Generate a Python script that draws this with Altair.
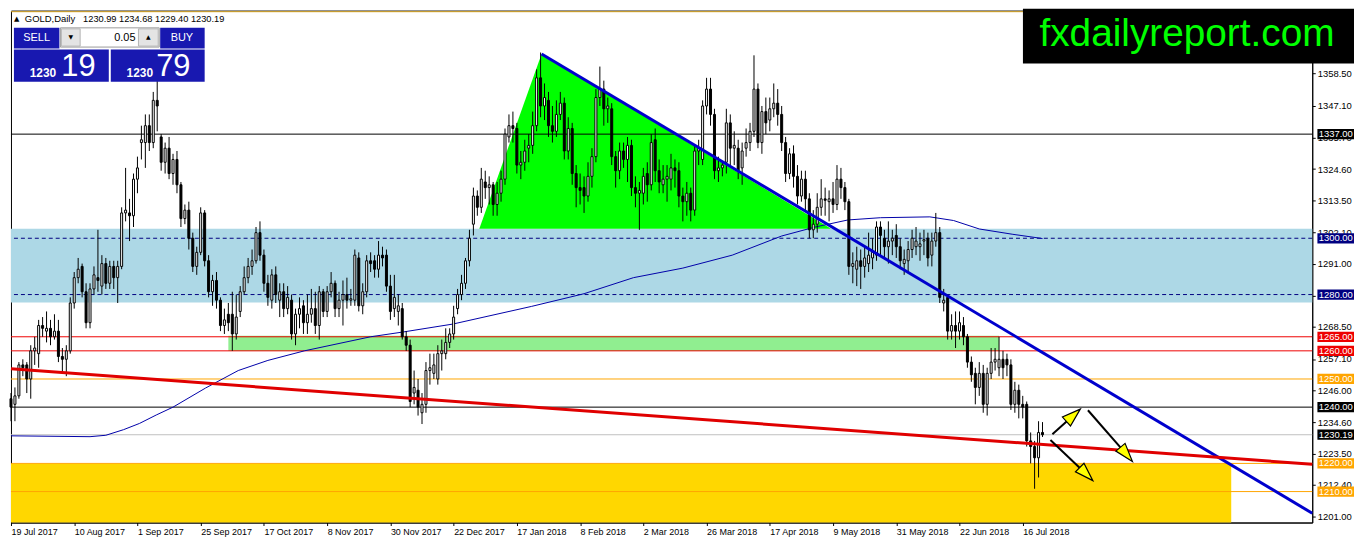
import json
import altair as alt
import pandas as pd

# ---------------- data ----------------
opens = [
    1243, 1241, 1244, 1255, 1255, 1250, 1260, 1259, 1269, 1267,
    1268, 1265, 1267, 1258, 1257, 1260, 1277, 1286, 1290, 1281,
    1270, 1282, 1286, 1283, 1291, 1284, 1290, 1286, 1290, 1309,
    1309, 1308, 1321, 1334, 1334, 1340, 1334, 1349, 1336, 1327,
    1332, 1323, 1328, 1319, 1307, 1310, 1300, 1290, 1295, 1309,
    1292, 1281, 1285, 1278, 1269, 1273, 1273, 1266, 1274, 1281,
    1286, 1290, 1292, 1302, 1294, 1284, 1278, 1287, 1278, 1281,
    1275, 1278, 1266, 1273, 1276, 1270, 1273, 1275, 1269, 1281,
    1274, 1281, 1284, 1275, 1278, 1280, 1278, 1278, 1293, 1276,
    1281, 1292, 1292, 1289, 1294, 1294, 1283, 1275, 1274, 1275,
    1265, 1262, 1245, 1246, 1238, 1241, 1253, 1252, 1250, 1259,
    1259, 1263, 1266, 1275, 1280, 1284, 1292, 1305, 1315, 1311,
    1320, 1318, 1319, 1312, 1316, 1321, 1336, 1340, 1339, 1326,
    1327, 1332, 1333, 1340, 1357, 1347, 1349, 1340, 1338, 1344,
    1348, 1331, 1339, 1323, 1318, 1318, 1315, 1322, 1329, 1350,
    1353, 1346, 1346, 1329, 1324, 1331, 1328, 1333, 1318, 1316,
    1316, 1323, 1319, 1335, 1324, 1319, 1321, 1321, 1325, 1324,
    1315, 1313, 1316, 1310, 1331, 1328, 1347, 1353, 1344, 1324,
    1325, 1327, 1341, 1332, 1332, 1325, 1332, 1334, 1338, 1353,
    1334, 1345, 1342, 1346, 1348, 1344, 1334, 1323, 1330, 1322,
    1315, 1321, 1314, 1303, 1305, 1311, 1314, 1313, 1314, 1312,
    1321, 1318, 1313, 1290, 1289, 1292, 1290, 1291, 1293, 1294,
    1304, 1300, 1297, 1299, 1301, 1297, 1291, 1292, 1296, 1297,
    1297, 1299, 1300, 1294, 1299, 1302, 1277, 1279, 1267, 1269,
    1267, 1269, 1265, 1256, 1252, 1247, 1252, 1241, 1252, 1256,
    1254, 1257, 1257, 1255, 1241, 1246, 1241, 1241, 1228, 1226,
    1222, 1230.99,
]
highs = [
    1245, 1247, 1256, 1257, 1256, 1262, 1265, 1271, 1272, 1274,
    1271, 1273, 1271, 1261, 1262, 1279, 1288, 1293, 1291, 1284,
    1284, 1290, 1303, 1294, 1293, 1292, 1292, 1292, 1311, 1325,
    1314, 1323, 1329, 1340, 1344, 1344, 1352, 1357, 1337, 1334,
    1336, 1330, 1331, 1320, 1312, 1313, 1302, 1297, 1311, 1310,
    1294, 1287, 1288, 1279, 1275, 1277, 1281, 1280, 1283, 1290,
    1293, 1296, 1304, 1306, 1296, 1287, 1289, 1290, 1284, 1284,
    1283, 1280, 1275, 1279, 1278, 1280, 1282, 1281, 1283, 1282,
    1283, 1288, 1285, 1281, 1285, 1286, 1282, 1296, 1295, 1284,
    1294, 1295, 1294, 1299, 1297, 1296, 1287, 1287, 1280, 1277,
    1267, 1264, 1253, 1250, 1245, 1256, 1259, 1259, 1262, 1264,
    1268, 1268, 1276, 1282, 1287, 1293, 1303, 1318, 1317, 1325,
    1324, 1322, 1320, 1320, 1324, 1339, 1344, 1345, 1341, 1331,
    1335, 1337, 1345, 1360, 1366, 1355, 1352, 1347, 1349, 1352,
    1350, 1343, 1341, 1326, 1323, 1322, 1327, 1332, 1353, 1361,
    1356, 1350, 1348, 1331, 1334, 1334, 1336, 1335, 1322, 1320,
    1325, 1327, 1337, 1339, 1328, 1326, 1326, 1330, 1328, 1327,
    1318, 1320, 1318, 1333, 1335, 1349, 1357, 1357, 1346, 1329,
    1327, 1346, 1344, 1338, 1335, 1334, 1339, 1341, 1365, 1355,
    1347, 1350, 1350, 1355, 1353, 1347, 1336, 1332, 1333, 1326,
    1324, 1324, 1316, 1310, 1316, 1321, 1318, 1317, 1320, 1326,
    1325, 1320, 1314, 1295, 1297, 1296, 1297, 1302, 1300, 1306,
    1306, 1303, 1306, 1303, 1305, 1300, 1296, 1299, 1303, 1304,
    1302, 1303, 1302, 1302, 1309, 1304, 1282, 1280, 1273, 1274,
    1274, 1272, 1266, 1258, 1254, 1256, 1255, 1254, 1261, 1261,
    1265, 1260, 1259, 1257, 1249, 1248, 1244, 1242, 1231, 1228,
    1235, 1234.68,
]
lows = [
    1235, 1235, 1243, 1251, 1245, 1243, 1255, 1254, 1265, 1263,
    1262, 1264, 1256, 1252, 1251, 1259, 1275, 1284, 1279, 1268,
    1268, 1280, 1281, 1280, 1282, 1282, 1282, 1277, 1289, 1306,
    1299, 1304, 1316, 1328, 1325, 1331, 1332, 1338, 1324, 1323,
    1321, 1319, 1316, 1304, 1305, 1296, 1288, 1287, 1294, 1290,
    1279, 1276, 1275, 1267, 1266, 1267, 1260, 1264, 1272, 1280,
    1284, 1287, 1291, 1292, 1281, 1276, 1275, 1277, 1272, 1272,
    1273, 1264, 1262, 1268, 1266, 1266, 1270, 1266, 1264, 1272,
    1272, 1279, 1272, 1272, 1269, 1275, 1276, 1276, 1274, 1273,
    1279, 1288, 1286, 1286, 1290, 1281, 1271, 1272, 1269, 1264,
    1260, 1240, 1241, 1237, 1234, 1238, 1248, 1250, 1248, 1253,
    1257, 1261, 1264, 1273, 1278, 1282, 1290, 1301, 1308, 1309,
    1314, 1312, 1308, 1308, 1313, 1319, 1334, 1334, 1323, 1321,
    1324, 1327, 1330, 1338, 1343, 1342, 1336, 1334, 1336, 1342,
    1328, 1328, 1319, 1311, 1312, 1309, 1313, 1318, 1327, 1347,
    1340, 1341, 1326, 1318, 1321, 1325, 1320, 1315, 1311, 1303,
    1312, 1313, 1317, 1320, 1316, 1316, 1313, 1317, 1318, 1311,
    1306, 1308, 1306, 1308, 1326, 1326, 1344, 1340, 1321, 1320,
    1322, 1323, 1326, 1326, 1321, 1319, 1329, 1331, 1336, 1332,
    1330, 1337, 1338, 1343, 1340, 1331, 1320, 1321, 1318, 1312,
    1313, 1310, 1300, 1300, 1302, 1308, 1308, 1306, 1309, 1310,
    1314, 1310, 1287, 1284, 1283, 1282, 1286, 1288, 1289, 1292,
    1294, 1293, 1291, 1294, 1293, 1289, 1287, 1288, 1293, 1294,
    1292, 1294, 1290, 1290, 1297, 1277, 1274, 1264, 1264, 1261,
    1264, 1262, 1254, 1249, 1241, 1244, 1238, 1237, 1250, 1253,
    1251, 1250, 1251, 1239, 1238, 1236, 1236, 1226, 1220, 1211,
    1215, 1229.40,
]
closes = [
    1240, 1244, 1255, 1254, 1250, 1260, 1261, 1269, 1268, 1268,
    1265, 1267, 1258, 1257, 1260, 1277, 1286, 1289, 1281, 1270,
    1282, 1287, 1285, 1291, 1284, 1290, 1286, 1290, 1309, 1310,
    1308, 1321, 1325, 1335, 1340, 1334, 1349, 1347, 1327, 1332,
    1323, 1328, 1319, 1307, 1310, 1300, 1290, 1295, 1309, 1292,
    1281, 1285, 1278, 1269, 1271, 1270, 1266, 1272, 1281, 1286,
    1290, 1292, 1302, 1294, 1284, 1279, 1287, 1280, 1281, 1275,
    1279, 1266, 1273, 1275, 1270, 1273, 1275, 1269, 1281, 1274,
    1281, 1284, 1275, 1278, 1280, 1278, 1278.5, 1294, 1276, 1281,
    1292, 1291, 1289, 1294, 1293, 1283, 1274, 1279, 1276, 1265,
    1262, 1242, 1247, 1240, 1241, 1253, 1254, 1255, 1259, 1260,
    1263, 1266, 1272, 1280, 1284, 1292, 1300, 1315, 1311, 1321,
    1318, 1319, 1312, 1316, 1321, 1337, 1340, 1339, 1326, 1327,
    1331, 1333, 1340, 1357, 1347, 1350, 1340, 1338, 1344, 1348,
    1331, 1339, 1323, 1318, 1317, 1315, 1322, 1329, 1350, 1353,
    1346, 1347, 1329, 1324, 1331, 1328, 1333, 1318, 1316, 1317,
    1322, 1319, 1334, 1324, 1320, 1321, 1322, 1325, 1324, 1315,
    1313, 1316, 1310, 1331, 1332, 1347, 1353, 1344, 1324, 1325,
    1326, 1341, 1332, 1333, 1324, 1331, 1334, 1338, 1353, 1334,
    1345, 1341, 1346, 1348, 1344, 1334, 1323, 1330, 1322, 1315,
    1321, 1314, 1303, 1305, 1311, 1314, 1313.5, 1314, 1312, 1321,
    1318, 1313, 1290, 1291, 1292, 1290, 1293, 1294, 1295, 1304,
    1301, 1297, 1299, 1300, 1297, 1292, 1292.5, 1296, 1300, 1299,
    1298, 1299.5, 1293, 1299, 1302, 1279, 1278, 1267, 1269, 1267,
    1270, 1265, 1256, 1251.5, 1247, 1252, 1241, 1252, 1256, 1257,
    1257, 1254, 1255, 1241, 1246, 1241, 1240, 1228, 1226, 1222,
    1231, 1230.19,
]

date_labels = ["19 Jul 2017", "10 Aug 2017", "1 Sep 2017", "25 Sep 2017", "17 Oct 2017",
               "8 Nov 2017", "30 Nov 2017", "22 Dec 2017", "17 Jan 2018", "8 Feb 2018",
               "2 Mar 2018", "26 Mar 2018", "17 Apr 2018", "9 May 2018", "31 May 2018",
               "22 Jun 2018", "16 Jul 2018"]
label_step = 16

price_ticks = [1358.5, 1347.1, 1335.7, 1324.6, 1313.5, 1302.1, 1291.0, 1279.6,
               1268.5, 1257.1, 1246.0, 1234.6, 1223.5, 1212.4, 1201.0]

ma_bar = [0, 20, 24, 28.5, 32.5, 36.75, 41, 49.25, 57.5, 65, 74.25, 91, 99.25, 111.75,
          131.75, 145, 157.5, 170, 182.5, 195, 203.5, 211.75, 220, 232.5, 238.5, 245,
          253.5, 261]
ma_val = [1229.8, 1229.5, 1230.0, 1232.0, 1234.2, 1237.2, 1240.0, 1246.8, 1253.0, 1256.6,
          1260.0, 1265.0, 1266.7, 1269.5, 1275.8, 1280.3, 1286.0, 1289.4, 1294.0, 1300.8,
          1304.0, 1306.5, 1307.3, 1307.6, 1306.3, 1303.3, 1301.4, 1299.9]

solid_levels = [1380.5, 1337.0, 1265.0, 1260.0, 1250.0, 1240.0, 1230.19, 1220.0, 1210.0]
solid_colors = ["#daa520", "#000000", "#ee0000", "#ee0000", "#ffa500", "#000000",
                "#c0c0c0", "#ffa500", "#ffa500"]
dashed_levels = [1300.0, 1280.0]

box_prices = [1337.0, 1300.0, 1280.0, 1265.0, 1260.0, 1250.0, 1240.0, 1230.19, 1220.0, 1210.0]
box_colors = ["#000000", "#000080", "#000080", "#ee0000", "#ee0000", "#ffa500",
              "#000000", "#000000", "#ffa500", "#ffa500"]

zone_x1 = [0, 0, 55]
zone_x2 = [329.25, 308.75, 250]
zone_y1 = [1277.2, 1199.0, 1259.9]
zone_y2 = [1303.4, 1219.8, 1265.4]
zone_colors = ["#add8e6", "#ffd700", "#90ee90"]

tri_bar = [118.5, 134.25, 207.5]
tri_top = [1303.4, 1365.5, 1303.4]
tri_base = 1303.4

trend_names = ["blue", "blue", "red", "red"]
trend_bar = [134.25, 329.25, 0, 329.25]
trend_price = [1365.5, 1202.3, 1253.6, 1219.7]
trend_colors = ["#0000cd", "#0000cd", "#e00000", "#e00000"]

arrow_tail_bar = [263.5, 272.5, 263.0]
arrow_tail_price = [1230.4, 1238.9, 1228.3]
arrow_head_bar = [268.5, 281.97, 271.78]
arrow_head_price = [1236.7, 1223.67, 1216.63]
arrow_angle = [48, 140, 135]

# ---------------- layout ----------------
W, H = 1309, 515
PAD = {"left": 3, "top": 1, "right": 42, "bottom": 17}
SX, SY = 1354 / 1362, 515 / 533
X_MAX = 329.25
Y_MIN, Y_MAX = 1199.0, 1380.9


def px(ox):
    return ox * SX - PAD["left"]


def py(oy):
    return (oy - 2) * SY


xs = alt.Scale(domain=[0, X_MAX], nice=False, zero=False, padding=0)
ys = alt.Scale(domain=[Y_MIN, Y_MAX], nice=False, zero=False, padding=0)

FONT = "Liberation Sans"
label_expr = json.dumps(date_labels) + "[round(datum.value / %d)]" % label_step
x_axis = alt.Axis(values=list(range(0, label_step * len(date_labels), label_step)),
                  labelExpr=label_expr, title=None, grid=False, orient="bottom",
                  tickSize=3, tickColor="black", domainColor="black", labelColor="black",
                  labelFont=FONT, labelFontSize=9, labelAlign="left", labelPadding=2,
                  labelOverlap=False, labelFlush=False, labelBound=False)
y_axis = alt.Axis(values=price_ticks, format=".2f", title=None, grid=False, orient="right",
                  tickSize=3, tickColor="black", domainColor="black", labelColor="black",
                  labelFont=FONT, labelFontSize=9.5, labelPadding=2,
                  labelOverlap=False, labelFlush=False, labelBound=False)


def X(field):
    return alt.X(field, scale=xs, axis=x_axis)


def Y(field):
    return alt.Y(field, scale=ys, axis=y_axis)


n = min(len(opens), len(highs), len(lows), len(closes))
candles = pd.DataFrame({"bar": list(range(n)), "o": opens[:n], "h": highs[:n],
                        "l": lows[:n], "c": closes[:n]})
candles["fill"] = ["white" if c >= o else "black" for o, c in zip(candles["o"], candles["c"])]

zones = pd.DataFrame({"x1": zone_x1, "x2": zone_x2, "y1": zone_y1, "y2": zone_y2, "col": zone_colors})
solid = pd.DataFrame({"p": solid_levels, "col": solid_colors})
dashed = pd.DataFrame({"p": dashed_levels})
tri = pd.DataFrame({"bar": tri_bar, "top": tri_top, "base": [tri_base] * len(tri_bar)})
ma = pd.DataFrame({"bar": ma_bar, "v": ma_val})
trends = pd.DataFrame({"name": trend_names, "bar": trend_bar, "p": trend_price, "col": trend_colors})
arrows = pd.DataFrame({"tb": arrow_tail_bar, "tp": arrow_tail_price,
                       "hb": arrow_head_bar, "hp": arrow_head_price, "ang": arrow_angle})
boxes = pd.DataFrame({"p": box_prices, "col": box_colors,
                      "txt": ["%.2f" % p for p in box_prices]})

layers = []
layers.append(alt.Chart(candles).mark_rule(color="black", strokeWidth=1, opacity=0).encode(
    x=X("bar:Q"), y=Y("l:Q"), y2="h:Q"))
layers.append(alt.Chart(zones).mark_rect(opacity=1).encode(
    x=X("x1:Q"), x2="x2:Q", y=Y("y1:Q"), y2="y2:Q",
    color=alt.Color("col:N", scale=None)))
layers.append(alt.Chart(tri).mark_area(color="#00ff00", opacity=1).encode(
    x=X("bar:Q"), y=Y("top:Q"), y2="base:Q"))
layers.append(alt.Chart(solid).mark_rule(strokeWidth=1).encode(
    y=Y("p:Q"), color=alt.Color("col:N", scale=None)))
layers.append(alt.Chart(dashed).mark_rule(strokeWidth=1, color="#000080", strokeDash=[4, 3]).encode(
    y=Y("p:Q")))
layers.append(alt.Chart(ma).mark_line(color="#0000a8", strokeWidth=1).encode(
    x=X("bar:Q"), y=Y("v:Q")))
layers.append(alt.Chart(candles).mark_rule(color="black", strokeWidth=1).encode(
    x=X("bar:Q"), y=Y("l:Q"), y2="h:Q"))
layers.append(alt.Chart(candles).mark_bar(size=2, stroke="black", strokeWidth=1, opacity=1).encode(
    x=X("bar:Q"), y=Y("o:Q"), y2="c:Q",
    fill=alt.Fill("fill:N", scale=None)))
layers.append(alt.Chart(trends).mark_line(strokeWidth=3).encode(
    x=X("bar:Q"), y=Y("p:Q"),
    color=alt.Color("col:N", scale=None), detail="name:N"))
layers.append(alt.Chart(arrows).mark_rule(color="black", strokeWidth=2).encode(
    x=X("tb:Q"), x2="hb:Q", y=Y("tp:Q"), y2="hp:Q"))
layers.append(alt.Chart(arrows).mark_point(
    shape="M0,-1L0.55,0.7L-0.55,0.7Z", size=484, filled=True, fill="#ffff00",
    stroke="black", strokeWidth=1.2, opacity=1).encode(
    x=X("hb:Q"), y=Y("hp:Q"), angle=alt.Angle("ang:Q", scale=None)))

BOX_X = W + 23.6
layers.append(alt.Chart(boxes).mark_point(
    shape="M-1,-0.28L1,-0.28L1,0.28L-1,0.28Z", size=1354, filled=True,
    strokeWidth=0, opacity=1).encode(
    x=alt.value(BOX_X), y=Y("p:Q"), color=alt.Color("col:N", scale=None)))
layers.append(alt.Chart(boxes).mark_text(
    color="white", font=FONT, fontSize=9.5, align="center", baseline="middle").encode(
    x=alt.value(BOX_X), y=Y("p:Q"), text="txt:N"))

dummy = pd.DataFrame({"k": [0]})


def rect(x0, y0, x1, y1, **kw):
    return alt.Chart(dummy).mark_rect(**kw).encode(
        x=alt.value(px(x0)), x2=alt.value(px(x1)), y=alt.value(py(y0)), y2=alt.value(py(y1)))


def label(ox, oy, txt, **kw):
    return alt.Chart(dummy).mark_text(text=txt, **kw).encode(
        x=alt.value(px(ox)), y=alt.value(py(oy)))


BLUE = "#1818b0"
layers += [
    rect(6, 20, 52, 41.5, fill=BLUE),
    rect(154, 20, 199, 41.5, fill=BLUE),
    rect(53, 20, 153, 40, fill="white", stroke="#9a9a9a", strokeWidth=1),
    rect(54, 21, 73, 39, fill="#e4e4e4", stroke="#b4b4b4", strokeWidth=1),
    rect(132, 21, 152, 39, fill="#e4e4e4", stroke="#b4b4b4", strokeWidth=1),
    rect(6, 42.5, 102, 76, fill=BLUE),
    rect(104, 42.5, 199, 76, fill=BLUE),
    label(29, 31, "SELL", color="white", font=FONT, fontSize=11, align="center", baseline="middle"),
    label(176, 31, "BUY", color="white", font=FONT, fontSize=11, align="center", baseline="middle"),
    label(63.5, 30, "▼", color="black", font="DejaVu Sans", fontSize=6, align="center", baseline="middle"),
    label(142, 30, "▲", color="black", font="DejaVu Sans", fontSize=6, align="center", baseline="middle"),
    label(129, 30.5, "0.05", color="black", font=FONT, fontSize=11, align="right", baseline="middle"),
    label(22, 71.5, "1230", color="white", font=FONT, fontSize=12, fontWeight="bold", align="left", baseline="alphabetic"),
    label(54, 70, "19", color="white", font=FONT, fontSize=31, align="left", baseline="alphabetic"),
    label(120, 71.5, "1230", color="white", font=FONT, fontSize=12, fontWeight="bold", align="left", baseline="alphabetic"),
    label(150, 70, "79", color="white", font=FONT, fontSize=31, align="left", baseline="alphabetic"),
    label(6, 10.5, "▲", color="black", font="DejaVu Sans", fontSize=7, align="left", baseline="middle"),
    label(17, 10.5, "GOLD,Daily", color="black", font=FONT, fontSize=9.5, align="left", baseline="middle"),
    label(76, 10.5, "1230.99 1234.68 1229.40 1230.19", color="black", font=FONT, fontSize=9.3,
          align="left", baseline="middle"),
    rect(1027, 0, 1362, 57, fill="black"),
    label(1193, 38.5, "fxdailyreport.com", color="#00ff00", font=FONT, fontSize=39,
          align="center", baseline="alphabetic"),
]

chart = alt.layer(*layers).properties(
    width=W, height=H, padding=PAD,
    autosize=alt.AutoSizeParams(type="none"), background="white",
).configure_view(stroke="black", strokeWidth=1)

chart.save("out.html", embed_options={"renderer": "svg", "actions": False})
